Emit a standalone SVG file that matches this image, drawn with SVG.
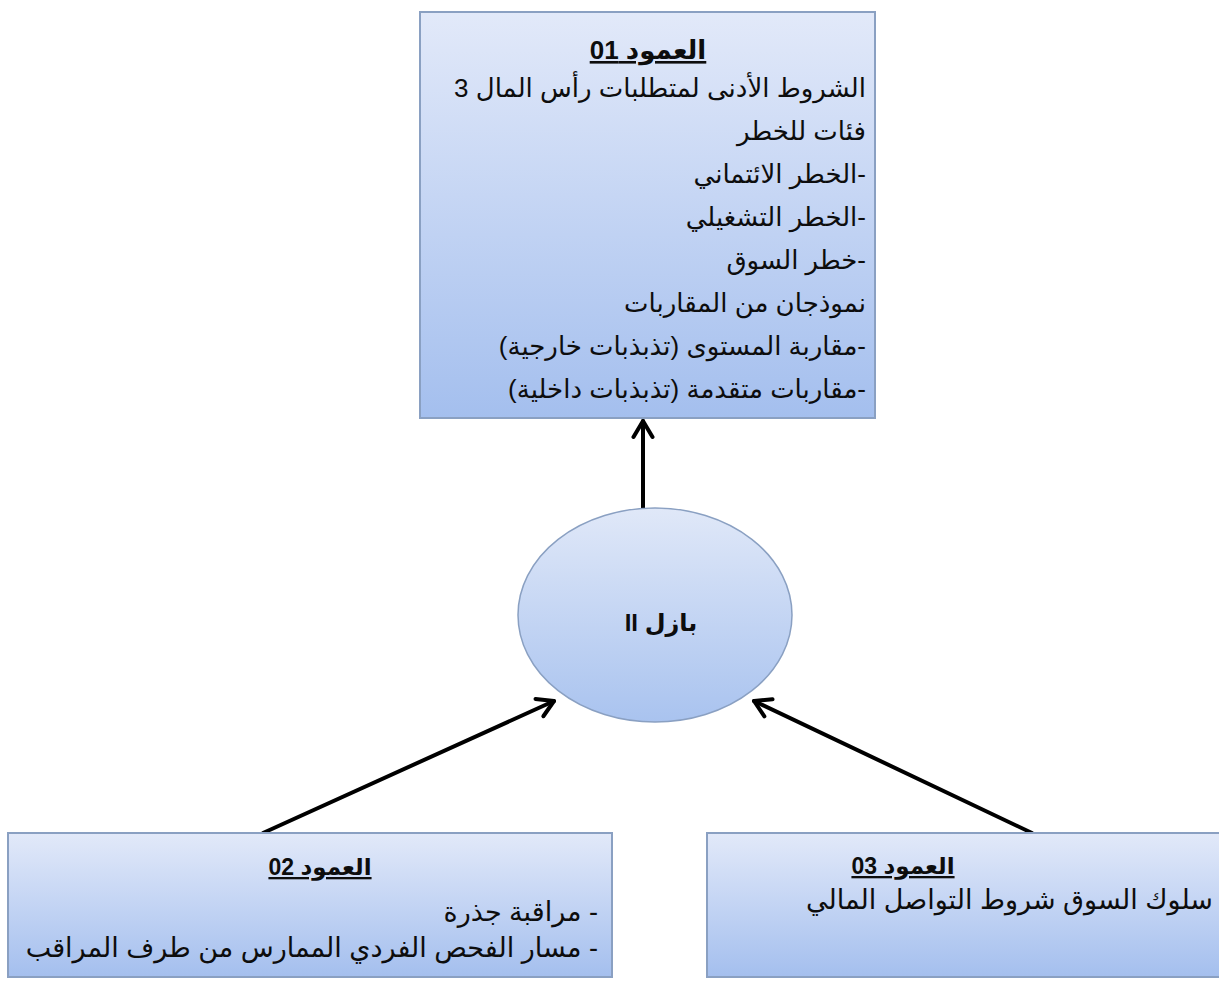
<svg xmlns="http://www.w3.org/2000/svg" width="1219" height="981" viewBox="0 0 1219 981">
  <defs>
    <linearGradient id="boxFill" x1="0" y1="0" x2="0" y2="1">
      <stop offset="0" stop-color="#e2e9f9"/>
      <stop offset="1" stop-color="#a4bfee"/>
    </linearGradient>
    <linearGradient id="ovalFill" x1="0" y1="0" x2="0" y2="1">
      <stop offset="0" stop-color="#e0e8f8"/>
      <stop offset="1" stop-color="#a9c3ef"/>
    </linearGradient>
    <marker id="head" viewBox="0 0 24 24" refX="21" refY="12" markerWidth="24" markerHeight="24" markerUnits="userSpaceOnUse" orient="auto">
      <path d="M5,2.5 L21,12 L5,21.5" fill="none" stroke="#000" stroke-width="4" stroke-linecap="round" stroke-linejoin="round"/>
    </marker>
    <style>
      .box { fill: url(#boxFill); stroke: #8aa0c2; stroke-width: 2; }
      .oval { fill: url(#ovalFill); stroke: #8aa0c2; stroke-width: 1.5; }
      .link { fill: none; stroke: #000; stroke-width: 4; stroke-linecap: round; marker-end: url(#head); }
      text { font-family: "Liberation Sans", "DejaVu Sans", sans-serif; fill: #0d0d0d; direction: rtl; unicode-bidi: embed; }
      .t { font-size: 26px; text-anchor: start; }
      .tb { font-size: 27px; text-anchor: start; }
      .h { font-size: 26px; font-weight: bold; text-anchor: middle; text-decoration: underline; }
      .hs { font-size: 23px; font-weight: bold; text-anchor: middle; text-decoration: underline; }
      .c { font-size: 24px; font-weight: bold; text-anchor: middle; }
    </style>
  </defs>
  <rect width="1219" height="981" fill="#fff"/>

  <g id="connectors">
    <line class="link" x1="643" y1="508" x2="643" y2="421"/>
    <line class="link" x1="263" y1="833" x2="554" y2="701"/>
    <line class="link" x1="1032" y1="833" x2="754" y2="701"/>
  </g>

  <g id="pillar1">
    <rect class="box" x="420" y="12" width="455" height="406"/>
    <text class="h" x="648" y="59">العمود 01</text>
    <text class="t" x="866" y="97">الشروط الأدنى لمتطلبات رأس المال 3</text>
    <text class="t" x="866" y="140">فئات للخطر</text>
    <text class="t" x="866" y="183">-الخطر الائتماني</text>
    <text class="t" x="866" y="226">-الخطر التشغيلي</text>
    <text class="t" x="866" y="269">-خطر السوق</text>
    <text class="t" x="866" y="312">نموذجان من المقاربات</text>
    <text class="t" x="866" y="355">-مقاربة المستوى (تذبذبات خارجية)</text>
    <text class="t" x="866" y="398">-مقاربات متقدمة (تذبذبات داخلية)</text>
  </g>

  <g id="basel">
    <ellipse class="oval" cx="655" cy="615" rx="137" ry="107"/>
    <text class="c" x="661" y="631">بازل II</text>
  </g>

  <g id="pillar2">
    <rect class="box" x="8" y="833" width="604" height="144"/>
    <text class="hs" x="320" y="875">العمود 02</text>
    <text class="tb" x="598" y="921">- مراقبة جذرة</text>
    <text class="tb" x="598" y="957">- مسار الفحص الفردي الممارس من طرف المراقب</text>
  </g>

  <g id="pillar3">
    <rect class="box" x="707" y="833" width="530" height="144"/>
    <text class="hs" x="903" y="874">العمود 03</text>
    <text class="tb" x="1213" y="909">سلوك السوق شروط التواصل المالي</text>
  </g>
</svg>
